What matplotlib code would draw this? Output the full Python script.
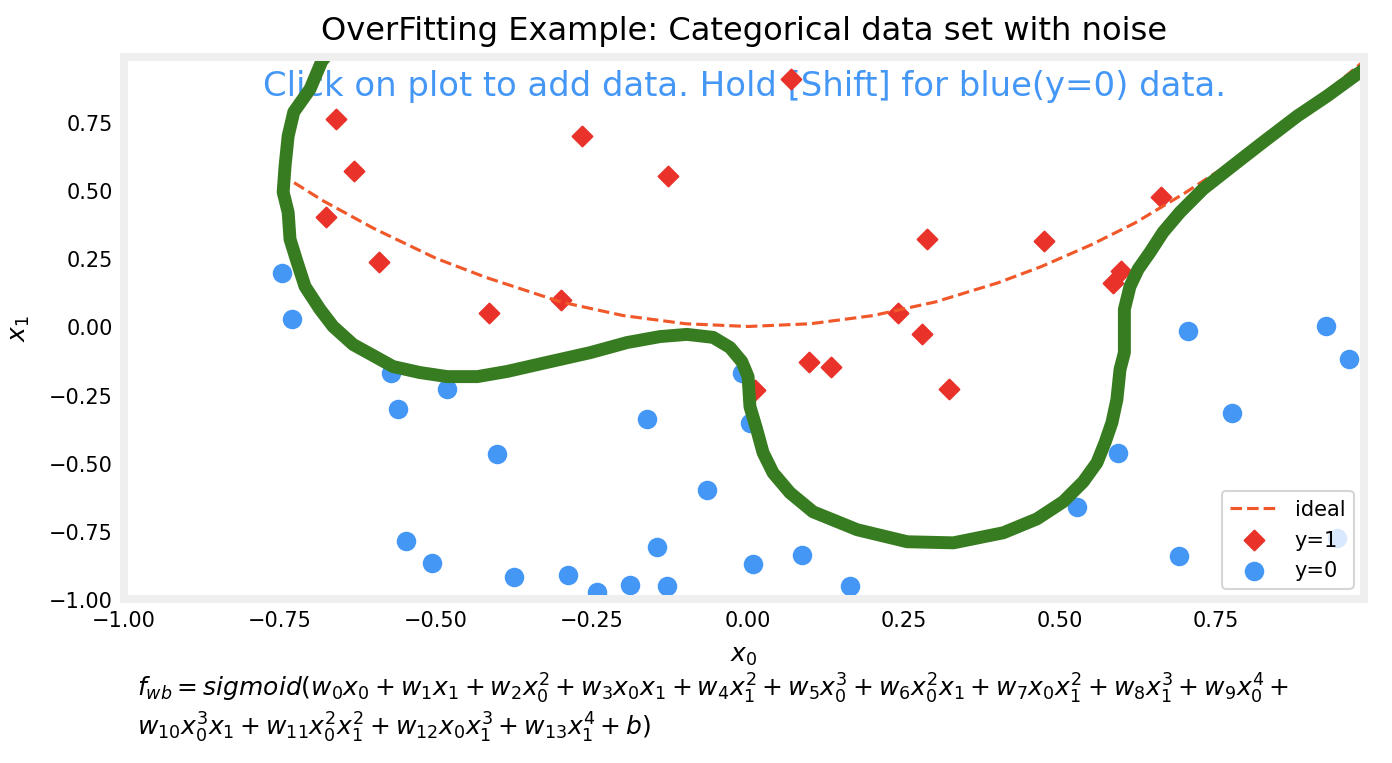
import numpy as np
import matplotlib.pyplot as plt

# data
pos_x0 = [-0.660, -0.631, -0.676, -0.591, -0.415, -0.300, -0.266, -0.128, 0.069, 0.011,
          0.098, 0.133, 0.240, 0.279, 0.287, 0.322, 0.474, 0.585, 0.598, 0.662]
pos_x1 = [0.761, 0.570, 0.401, 0.235, 0.048, 0.099, 0.699, 0.551, 0.908, -0.232,
          -0.132, -0.147, 0.051, -0.029, 0.320, -0.228, 0.313, 0.158, 0.202, 0.474]

neg_x0 = [-0.747, -0.731, -0.572, -0.561, -0.482, -0.548, -0.506, -0.402, -0.162, -0.066,
          -0.010, 0.003, -0.375, -0.288, -0.242, -0.189, -0.146, -0.130, 0.008, 0.087,
          0.163, 0.705, 0.926, 0.963, 0.776, 0.593, 0.527, 0.691, 0.944]
neg_x1 = [0.195, 0.026, -0.169, -0.301, -0.228, -0.787, -0.868, -0.467, -0.338, -0.599,
          -0.169, -0.353, -0.919, -0.912, -0.974, -0.949, -0.809, -0.952, -0.871, -0.838,
          -0.952, -0.015, 0.000, -0.118, -0.316, -0.463, -0.662, -0.842, -0.776]

ideal_x0 = [-0.75, -0.68, -0.60, -0.50, -0.42, -0.30, -0.20, -0.10, 0.00, 0.10,
            0.20, 0.30, 0.40, 0.47, 0.55, 0.62, 0.70, 0.80, 0.90, 0.99]
ideal_x1 = [0.56, 0.46, 0.36, 0.25, 0.18, 0.09, 0.04, 0.01, 0.00, 0.01,
            0.04, 0.09, 0.16, 0.22, 0.30, 0.38, 0.49, 0.64, 0.81, 0.98]

# decision boundary (level 0.5 of the fitted model)
bnd_x0 = [-0.670, -0.683, -0.702, -0.728, -0.737, -0.742, -0.745, -0.737, -0.734, -0.723,
          -0.710, -0.686, -0.665, -0.633, -0.595, -0.569, -0.526, -0.482, -0.434, -0.386,
          -0.317, -0.253, -0.194, -0.141, -0.098, -0.056, -0.029, -0.010, 0.000, 0.003,
          0.014, 0.024, 0.040, 0.067, 0.104, 0.175, 0.255, 0.329, 0.409, 0.463,
          0.505, 0.537, 0.559, 0.572, 0.583, 0.591, 0.596, 0.603, 0.603, 0.612,
          0.625, 0.644, 0.665, 0.692, 0.729, 0.784, 0.825, 0.880, 0.928, 0.976, 0.995]
bnd_x1 = [1.010, 0.974, 0.871, 0.787, 0.699, 0.588, 0.493, 0.419, 0.320, 0.239,
          0.147, 0.063, 0.000, -0.066, -0.114, -0.147, -0.169, -0.184, -0.184, -0.165,
          -0.129, -0.096, -0.059, -0.037, -0.029, -0.040, -0.077, -0.129, -0.184, -0.294,
          -0.379, -0.463, -0.537, -0.610, -0.680, -0.746, -0.790, -0.794, -0.757, -0.706,
          -0.643, -0.570, -0.500, -0.426, -0.353, -0.268, -0.158, -0.096, 0.063, 0.147,
          0.210, 0.272, 0.346, 0.419, 0.504, 0.603, 0.676, 0.772, 0.846, 0.926, 0.955]

eqn1 = (r"$f_{wb} = sigmoid(w_0x_0 + w_1x_1 + w_2x_0^2 + w_3x_0x_1 + w_4x_1^2 + "
        r"w_5x_0^3 + w_6x_0^2x_1 + w_7x_0x_1^2 + w_8x_1^3 + w_9x_0^4 + $")
eqn2 = r"$w_{10}x_0^3x_1 + w_{11}x_0^2x_1^2 + w_{12}x_0x_1^3 + w_{13}x_1^4 + b)$"

blue = '#4597f6'
red = '#e8322a'
orange = '#f0582a'
green = '#387c21'

fig = plt.figure(figsize=(9.28, 5.0933), dpi=150)
ax = fig.add_axes([0.0891, 0.2147, 0.8908, 0.7094])

ax.scatter(pos_x0, pos_x1, marker='D', s=45, color=red, label='y=1', zorder=1)
ax.scatter(neg_x0, neg_x1, marker='o', s=70, color=blue, label='y=0', zorder=1)
ax.plot(ideal_x0, ideal_x1, '--', color=orange, lw=1.5, label='ideal', zorder=2)
ax.plot(bnd_x0, bnd_x1, '-', color=green, lw=6.2, solid_capstyle='butt', zorder=2.5)

ax.set_xlim(-1, 0.987)
ax.set_ylim(-1, 0.989)
for sp in ax.spines.values():
    sp.set_color('#efefef')
    sp.set_linewidth(3.84)
ax.tick_params(length=0, pad=5.3, labelsize=10)
ax.set_xticks([-1.0, -0.75, -0.5, -0.25, 0.0, 0.25, 0.5, 0.75])
ax.set_yticks([-1.0, -0.75, -0.5, -0.25, 0.0, 0.25, 0.5, 0.75])

ax.set_title("OverFitting Example: Categorical data set with noise", fontsize=15.4, pad=8.5)
ax.text(0.5, 0.93, "Click on plot to add data. Hold [Shift] for blue(y=0) data.",
        transform=ax.transAxes, ha='center', va='baseline', fontsize=16.25, color=blue,
        zorder=0.5)
ax.set_xlabel("$x_0$", fontsize=12, labelpad=6)
ax.set_ylabel("$x_1$", fontsize=12, labelpad=8)

h, l = ax.get_legend_handles_labels()
order = [2, 0, 1]
ax.legend([h[i] for i in order], [l[i] for i in order], loc='lower right', fontsize=10,
          handlelength=2.3)

fig.text(0.0984, 0.0877, eqn1, fontsize=12)
fig.text(0.0984, 0.0370, eqn2, fontsize=12)

fig.savefig('out.png', dpi=150)
